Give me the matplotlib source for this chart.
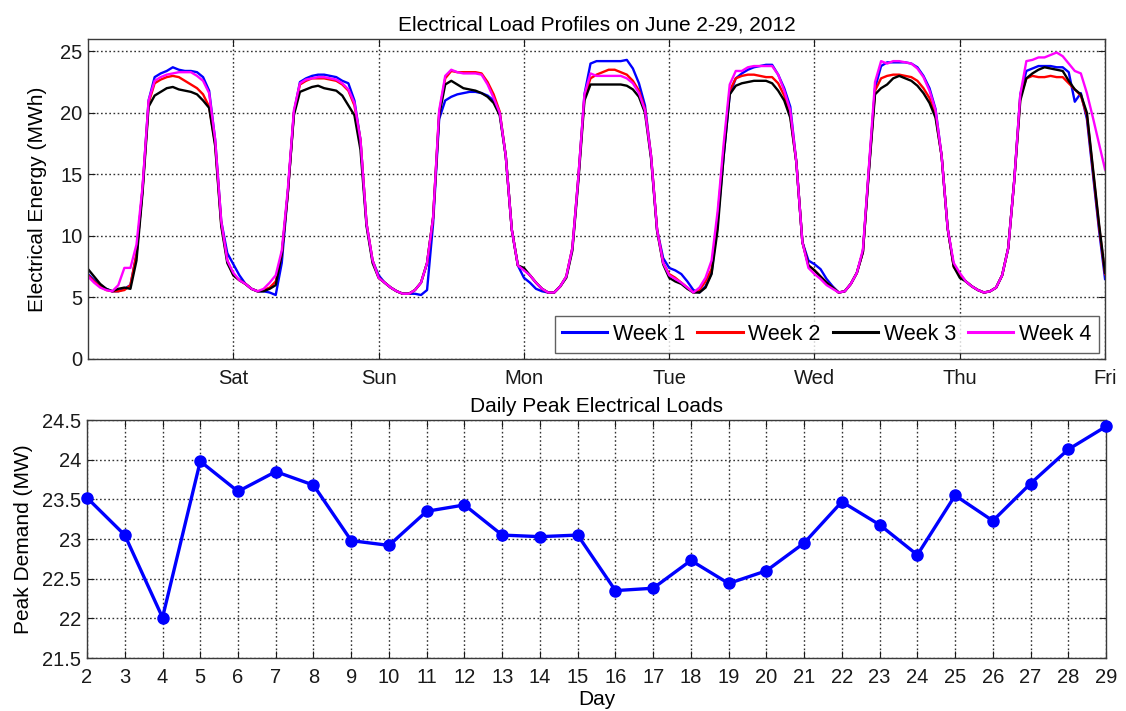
import numpy as np
import matplotlib
matplotlib.use("Agg")
import matplotlib.pyplot as plt
from matplotlib.ticker import FuncFormatter

plt.rcParams['font.family'] = ['Liberation Sans', 'DejaVu Sans']

# ---------------- data: hourly electrical energy (MWh), one row per day ----------------
day_labels = ['Sat', 'Sun', 'Mon', 'Tue', 'Wed', 'Thu', 'Fri']
week_names = ['Week 1', 'Week 2', 'Week 3', 'Week 4']

week1 = [
    [6.9, 6.4, 6.0, 5.7, 5.5, 5.5, 5.7, 6.0, 8.5, 13.8, 21.0, 22.9, 23.2, 23.4, 23.7, 23.5, 23.4, 23.4, 23.3, 22.9, 21.8, 17.8, 11.2, 8.6],
    [7.7, 6.8, 6.1, 5.7, 5.5, 5.5, 5.4, 5.2, 7.8, 13.5, 20.0, 22.5, 22.8, 23.0, 23.1, 23.1, 23.0, 22.9, 22.6, 22.4, 21.0, 17.8, 11.0, 8.0],
    [6.8, 6.2, 5.8, 5.5, 5.3, 5.3, 5.3, 5.2, 5.6, 11.0, 19.5, 21.0, 21.3, 21.5, 21.6, 21.7, 21.7, 21.6, 21.4, 21.0, 20.0, 16.5, 10.5, 7.6],
    [6.6, 6.2, 5.7, 5.5, 5.4, 5.4, 5.9, 6.7, 9.0, 14.8, 21.5, 24.0, 24.2, 24.2, 24.2, 24.2, 24.2, 24.3, 23.6, 22.4, 20.6, 16.5, 10.5, 8.2],
    [7.4, 7.2, 6.9, 6.3, 5.6, 5.4, 5.9, 7.0, 11.2, 16.5, 21.5, 22.8, 23.2, 23.5, 23.7, 23.8, 23.9, 23.9, 23.1, 22.0, 20.5, 16.0, 9.5, 8.0],
    [7.7, 7.3, 6.5, 5.9, 5.4, 5.5, 6.1, 7.0, 8.7, 15.5, 22.0, 23.8, 24.1, 24.1, 24.1, 24.1, 24.0, 23.7, 23.0, 22.0, 20.3, 16.5, 10.6, 7.6],
    [6.9, 6.3, 5.9, 5.6, 5.4, 5.5, 5.8, 6.8, 9.0, 14.5, 21.5, 23.4, 23.6, 23.8, 23.8, 23.8, 23.7, 23.7, 23.3, 20.9, 21.6, 19.5, 15.0, 10.5],
]
week1_end = 6.5

week2 = [
    [6.8, 6.3, 5.9, 5.6, 5.5, 5.5, 5.6, 6.0, 8.5, 13.8, 20.8, 22.4, 22.7, 22.9, 23.0, 22.9, 22.6, 22.3, 22.0, 21.5, 20.5, 17.5, 11.0, 8.0],
    [6.8, 6.4, 6.1, 5.7, 5.5, 5.6, 5.8, 6.3, 8.5, 13.5, 20.0, 22.3, 22.6, 22.8, 22.8, 22.8, 22.7, 22.6, 22.3, 21.8, 20.6, 17.8, 11.0, 8.0],
    [6.6, 6.2, 5.8, 5.5, 5.3, 5.3, 5.6, 6.2, 7.8, 11.5, 20.0, 22.8, 23.4, 23.3, 23.3, 23.3, 23.3, 23.2, 22.5, 21.5, 20.1, 16.5, 10.5, 7.6],
    [7.3, 6.8, 6.2, 5.7, 5.4, 5.4, 5.9, 6.7, 9.0, 14.8, 21.3, 22.8, 23.1, 23.3, 23.5, 23.5, 23.3, 23.1, 22.6, 21.8, 20.3, 16.5, 10.5, 7.8],
    [6.9, 6.6, 6.2, 5.8, 5.4, 5.6, 6.3, 7.3, 11.5, 17.0, 21.8, 22.8, 23.0, 23.1, 23.1, 23.0, 22.9, 22.9, 22.4, 21.4, 19.8, 16.0, 9.5, 7.6],
    [7.2, 6.7, 6.2, 5.8, 5.4, 5.5, 6.1, 7.0, 8.7, 15.5, 21.8, 22.8, 23.0, 23.1, 23.1, 23.0, 22.9, 22.6, 22.0, 21.2, 19.8, 16.5, 10.6, 7.5],
    [6.8, 6.3, 5.9, 5.6, 5.4, 5.5, 5.8, 6.8, 9.0, 14.5, 21.3, 22.8, 23.0, 22.9, 22.9, 23.0, 22.9, 22.9, 22.4, 21.9, 21.4, 19.8, 15.3, 10.8],
]
week2_end = 6.9

week3 = [
    [7.3, 6.7, 6.1, 5.7, 5.5, 5.7, 5.8, 5.7, 8.0, 13.5, 20.5, 21.4, 21.7, 22.0, 22.1, 21.9, 21.8, 21.7, 21.5, 21.0, 20.4, 17.3, 10.8, 7.8],
    [6.8, 6.4, 6.1, 5.7, 5.5, 5.5, 5.7, 6.0, 8.5, 13.5, 19.8, 21.7, 21.9, 22.1, 22.2, 22.0, 21.9, 21.8, 21.4, 20.6, 19.8, 17.0, 10.8, 7.8],
    [6.6, 6.2, 5.8, 5.5, 5.3, 5.3, 5.6, 6.2, 7.8, 11.5, 19.8, 22.3, 22.6, 22.3, 22.0, 21.9, 21.8, 21.6, 21.3, 20.8, 19.8, 16.5, 10.5, 7.6],
    [7.4, 6.8, 6.2, 5.7, 5.4, 5.4, 5.9, 6.6, 8.8, 14.5, 21.0, 22.3, 22.3, 22.3, 22.3, 22.3, 22.3, 22.2, 21.9, 21.3, 20.0, 16.3, 10.4, 7.7],
    [6.6, 6.3, 6.1, 5.7, 5.4, 5.4, 5.8, 6.9, 10.5, 16.5, 21.5, 22.2, 22.4, 22.5, 22.6, 22.6, 22.6, 22.4, 21.8, 21.0, 19.6, 16.0, 9.5, 7.6],
    [7.2, 6.7, 6.2, 5.8, 5.4, 5.5, 6.1, 7.0, 8.7, 15.3, 21.5, 22.0, 22.3, 22.8, 23.0, 22.8, 22.6, 22.2, 21.6, 20.8, 19.6, 16.5, 10.6, 7.5],
    [6.6, 6.3, 5.9, 5.6, 5.4, 5.5, 5.8, 6.8, 9.0, 14.5, 21.0, 22.8, 23.2, 23.5, 23.7, 23.6, 23.5, 23.4, 22.6, 21.9, 21.5, 20.0, 15.5, 11.0],
]
week3_end = 7.0

week4 = [
    [6.7, 6.2, 5.8, 5.6, 5.5, 6.0, 7.4, 7.4, 9.3, 14.0, 21.0, 22.6, 22.9, 23.1, 23.2, 23.3, 23.3, 23.3, 23.0, 22.6, 21.6, 17.8, 11.2, 8.0],
    [7.0, 6.4, 6.1, 5.7, 5.5, 5.7, 6.2, 6.8, 8.8, 13.8, 20.2, 22.4, 22.7, 22.8, 22.9, 22.9, 22.8, 22.7, 22.4, 21.9, 20.8, 17.8, 11.0, 8.0],
    [6.6, 6.2, 5.8, 5.5, 5.3, 5.3, 5.6, 6.2, 7.8, 11.5, 20.2, 23.0, 23.5, 23.3, 23.2, 23.2, 23.2, 23.1, 22.3, 21.2, 20.0, 16.5, 10.5, 7.6],
    [7.2, 6.8, 6.2, 5.7, 5.4, 5.4, 5.9, 6.7, 9.0, 14.8, 21.5, 23.2, 23.0, 23.0, 23.0, 23.0, 23.0, 22.8, 22.4, 21.6, 20.2, 16.5, 10.5, 7.8],
    [6.8, 6.5, 6.2, 5.8, 5.4, 5.8, 6.6, 8.0, 12.0, 17.5, 22.3, 23.4, 23.4, 23.7, 23.8, 23.8, 23.8, 23.8, 23.1, 21.8, 20.2, 16.0, 9.5, 7.4],
    [6.9, 6.5, 6.0, 5.7, 5.4, 5.5, 6.1, 7.0, 8.9, 15.7, 22.5, 24.2, 24.0, 24.2, 24.2, 24.1, 24.0, 23.6, 22.9, 21.8, 20.2, 16.5, 10.6, 7.8],
    [7.0, 6.3, 5.9, 5.6, 5.4, 5.5, 5.8, 6.8, 9.0, 14.5, 21.5, 24.2, 24.3, 24.5, 24.5, 24.7, 24.9, 24.6, 24.0, 23.4, 23.2, 21.6, 19.6, 17.5],
]
week4_end = 15.4

# ---------------- data: daily peak demand (MW), June 2-29 ----------------
peak_days = list(range(2, 30))
peak_demand = [23.52, 23.05, 22.01, 23.98, 23.60, 23.85, 23.68, 22.98, 22.92, 23.35,
               23.43, 23.05, 23.03, 23.05, 22.35, 22.38, 22.73, 22.44, 22.60, 22.95,
               23.47, 23.18, 22.80, 23.55, 23.23, 23.70, 24.13, 24.42]

# ---------------- figure ----------------
fig = plt.figure(figsize=(11.26, 7.11), dpi=100)

grid_kw = dict(color='0.2', linestyle=(0, (1.2, 1.8)), linewidth=1.0)
spine_col = '#3a3a3a'


def style_axes(ax):
    for s in ax.spines.values():
        s.set_color(spine_col)
        s.set_linewidth(1.0)
    ax.tick_params(direction='in', length=5, width=0.8, top=True, right=True,
                   labelsize=14.5, colors='#1a1a1a')
    ax.tick_params(axis='x', pad=7)
    ax.tick_params(axis='y', pad=4)
    ax.grid(True, **grid_kw)
    ax.set_axisbelow(True)


# top panel
ax1 = fig.add_axes([0.0782, 0.4951, 0.9032, 0.4501])
hours = np.arange(7 * 24 + 1) / 24.0
colors = ['#0000ff', '#ff0000', '#000000', '#ff00ff']
weeks = [(week1, week1_end), (week2, week2_end), (week3, week3_end), (week4, week4_end)]
for (wk, wend), col, name in zip(weeks, colors, week_names):
    y = np.concatenate([np.ravel(np.array(wk)), [wend]])
    ax1.plot(hours, y, color=col, linewidth=1.7, label=name)

ax1.set_xlim(0, 7)
ax1.set_ylim(0, 26)
ax1.set_xticks(np.arange(1, 8))
ax1.set_xticklabels(day_labels)
ax1.set_yticks(np.arange(0, 26, 5))
style_axes(ax1)
ax1.set_ylabel('Electrical Energy (MWh)', fontsize=15)
ax1.yaxis.set_label_coords(-0.040, 0.5)
ax1.set_title('Electrical Load Profiles on June 2-29, 2012', fontsize=15, pad=6)
leg = ax1.legend(loc='lower right', ncol=4, fontsize=15.5, frameon=True, fancybox=False,
                 handlelength=2.1, handletextpad=0.27, columnspacing=0.55,
                 borderpad=0.35, borderaxespad=0.3)
leg.get_frame().set_edgecolor('#3a3a3a')
leg.get_frame().set_linewidth(1.0)
for line in leg.get_lines():
    line.set_linewidth(2.2)

# bottom panel
ax2 = fig.add_axes([0.0773, 0.0745, 0.905, 0.3347])
ax2.plot(peak_days, peak_demand, '-o', color='#0000ff', linewidth=2.4,
         markersize=8, clip_on=False, zorder=3)
ax2.set_xlim(2, 29)
ax2.set_ylim(21.5, 24.5)
ax2.set_xticks(peak_days)
ax2.set_yticks(np.arange(21.5, 24.51, 0.5))
ax2.yaxis.set_major_formatter(FuncFormatter(lambda v, p: '%g' % v))
style_axes(ax2)
ax2.set_xlabel('Day', fontsize=15)
ax2.xaxis.set_label_coords(0.5, -0.135)
ax2.set_ylabel('Peak Demand (MW)', fontsize=15)
ax2.yaxis.set_label_coords(-0.053, 0.5)
ax2.set_title('Daily Peak Electrical Loads', fontsize=15, pad=6)

fig.savefig('out.png', dpi=100)
